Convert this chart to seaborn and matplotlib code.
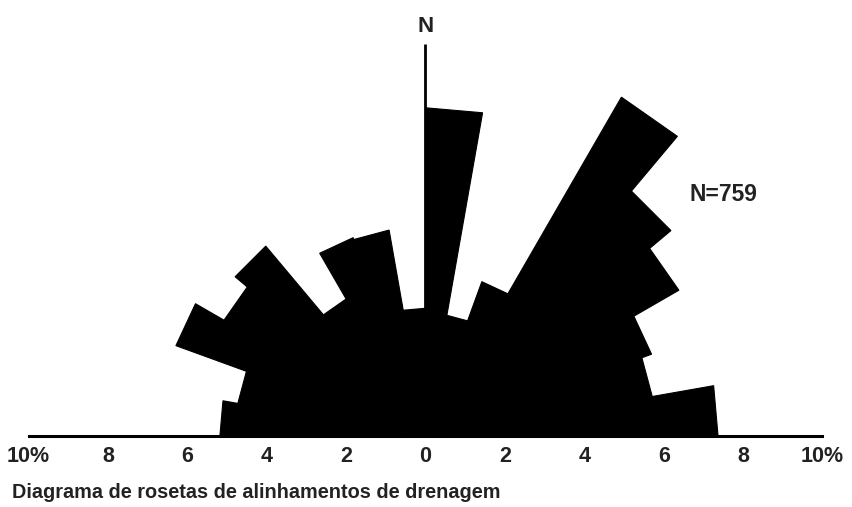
import numpy as np
import matplotlib
matplotlib.use("Agg")
import matplotlib.pyplot as plt
from matplotlib.patches import Polygon
import seaborn as sns

# Azimuth classes (start of each 10° class, clockwise from north) and
# percentage of drainage lineaments in each class
azimute_inicio = [-90, -80, -70, -60, -50, -40, -30, -20, -10,
                  0, 10, 20, 30, 40, 50, 60, 70, 80]
frequencia = [5.18, 4.80, 6.69, 5.86, 6.26, 4.00, 5.33, 5.28, 3.23,
              8.28, 3.10, 4.15, 9.87, 8.07, 7.37, 6.06, 5.80, 7.37]
largura_classe = 10

escala_ticks = [-10, -8, -6, -4, -2, 0, 2, 4, 6, 8, 10]
escala_rotulos = ["10%", "8", "6", "4", "2", "0", "2", "4", "6", "8", "10%"]

total_medidas = 759
titulo = "Diagrama de rosetas de alinhamentos de drenagem"

sns.set_theme(style="white")
plt.rcParams["font.family"] = ["Liberation Sans", "DejaVu Sans"]

W, H, DPI = 853, 507, 100
fig = plt.figure(figsize=(W / DPI, H / DPI), dpi=DPI)
ax = fig.add_axes([0, 0, 1, 1])

# one data unit (1 %) = px_unit pixels; origin of the rose in pixels
px_unit = 39.7
cx, cy = 425.5, 507 - 436.5
ax.set_xlim(-cx / px_unit, (W - cx) / px_unit)
ax.set_ylim(-cy / px_unit, (H - cy) / px_unit)
ax.set_aspect("equal")


def ponto(azimute, raio):
    """Azimuth in degrees clockwise from north -> x, y."""
    t = np.deg2rad(azimute)
    return raio * np.sin(t), raio * np.cos(t)


# rose petals as triangles with straight outer edges
for a, f in zip(azimute_inicio, frequencia):
    vertices = [(0, 0), ponto(a, f), ponto(a + largura_classe, f)]
    ax.add_patch(Polygon(vertices, closed=True, facecolor="black",
                         edgecolor="black", linewidth=0.8, joinstyle="miter"))

# north line and label
ax.plot([0, 0], [0, (436.5 - 44) / px_unit], color="black", lw=2.0,
        solid_capstyle="butt")
ax.text(0, (436.5 - 26) / px_unit, "N", ha="center", va="center",
        fontsize=16, fontweight="bold", color="#222222")

# scale bar along the diameter
sns.despine(ax=ax, left=True, top=True, right=True)
ax.spines["bottom"].set_position(("data", 0))
ax.spines["bottom"].set_bounds(-10, 10)
ax.spines["bottom"].set_linewidth(2.2)
ax.spines["bottom"].set_color("black")
ax.spines["bottom"].set_zorder(5)
ax.set_xticks(escala_ticks)
ax.set_xticklabels(escala_rotulos)
ax.tick_params(axis="x", direction="out", length=4, width=2, colors="black",
               pad=3, labelsize=15.5, labelcolor="#222222")
for lbl in ax.get_xticklabels():
    lbl.set_fontweight("bold")
ax.set_yticks([])

ax.text((723 - 425.5) / px_unit, (436.5 - 194) / px_unit, f"N={total_medidas}",
        ha="center", va="center", fontsize=16.5, fontweight="bold",
        color="#222222")

fig.text(12 / W, 1 - 492 / H, titulo, ha="left", va="center",
         fontsize=14.3, fontweight="bold", color="#222222")

fig.savefig("out.png", dpi=DPI, facecolor="white")
